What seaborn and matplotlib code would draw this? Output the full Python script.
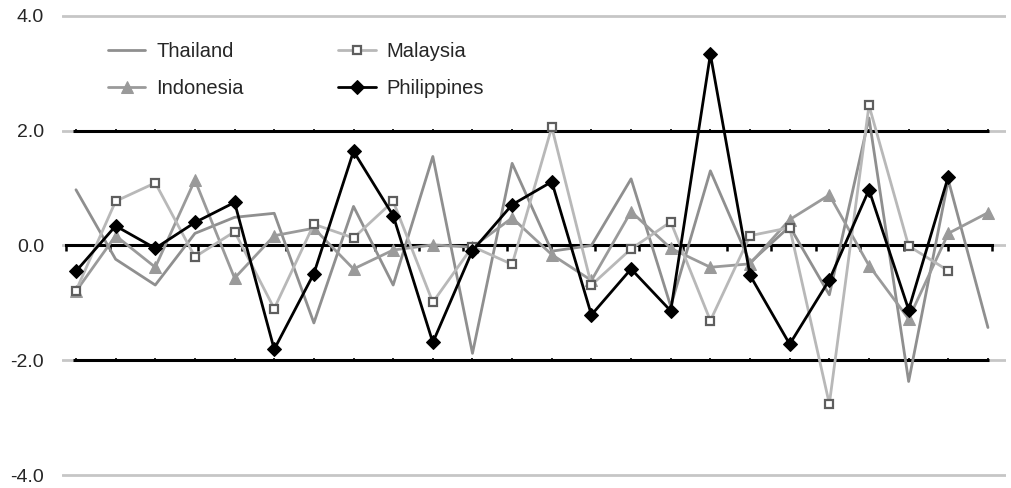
import numpy as np
import pandas as pd
import matplotlib
matplotlib.use("Agg")
import matplotlib.pyplot as plt
import seaborn as sns

# values (24 periods)
periods = list(range(24))
thailand = [0.97, -0.24, -0.69, 0.21, 0.49, 0.56, -1.35, 0.68, -0.69, 1.55, -1.88, 1.43,
            -0.10, 0.00, 1.16, -1.06, 1.30, -0.30, 0.33, -0.86, 2.22, -2.37, 1.14, -1.43]
indonesia = [-0.80, 0.17, -0.38, 1.14, -0.57, 0.17, 0.30, -0.41, -0.08, 0.01, -0.03, 0.48,
             -0.16, -0.61, 0.59, -0.05, -0.38, -0.32, 0.45, 0.88, -0.35, -1.28, 0.21, 0.57]
malaysia = [-0.79, 0.77, 1.09, -0.20, 0.24, -1.10, 0.37, 0.13, 0.77, -0.99, -0.02, -0.33,
            2.06, -0.69, -0.06, 0.41, -1.31, 0.17, 0.31, -2.76, 2.44, -0.01, -0.44]
philippines = [-0.45, 0.34, -0.05, 0.40, 0.75, -1.81, -0.49, 1.64, 0.52, -1.69, -0.09, 0.71,
               1.11, -1.21, -0.41, -1.14, 3.33, -0.52, -1.72, -0.60, 0.97, -1.12, 1.20]
band = 2.0
yticks = [4.0, 2.0, 0.0, -2.0, -4.0]
ytick_labels = ["4.0", "2.0", "0.0", "-2.0", "-4.0"]

sns.set_style("white")
plt.rcParams["font.family"] = ["Liberation Sans", "DejaVu Sans"]

fig = plt.figure(figsize=(10.11, 4.88), dpi=100)
ax = fig.add_axes([0.0613, 0.0148, 0.9337, 0.9645])

# +/-2 reference lines with small period ticks
for level in (band, -band):
    ax.hlines(level, -0.08, 23.03, color="black", lw=2.2, zorder=1.5)
    ax.plot(periods, [level] * len(periods), ls="none", marker="|", ms=3,
            mew=1.2, color="black", zorder=1.6)

sns.lineplot(x=periods, y=thailand, color="#8f8f8f", lw=2, label="Thailand",
             ax=ax, zorder=3)
sns.lineplot(x=periods, y=indonesia, color="#9a9a9a", lw=2, marker="^", ms=8,
             mec="#9a9a9a", mfc="#9a9a9a", label="Indonesia", ax=ax, zorder=3)
sns.lineplot(x=periods[:len(malaysia)], y=malaysia, color="#b8b8b8", lw=2, marker="s",
             ms=5.5, mfc="white", mec="#5e5e5e", mew=1.6, label="Malaysia", ax=ax, zorder=4)
sns.lineplot(x=periods[:len(philippines)], y=philippines, color="black", lw=2,
             marker="D", ms=7.5, mec="black", mfc="black", label="Philippines",
             ax=ax, zorder=5)

ax.set_xlim(-0.353, 23.454)
ax.set_ylim(-4.1, 4.1)

# horizontal grid
ax.set_yticks(yticks)
ax.set_yticklabels(ytick_labels, fontsize=14)
ax.yaxis.grid(True, color="#c6c6c6", lw=2)
ax.xaxis.grid(False)
ax.tick_params(axis="y", length=0, pad=13)

# zero axis with its own ticks
for side in ("left", "right", "top"):
    ax.spines[side].set_visible(False)
ax.spines["bottom"].set_position(("data", 0))
ax.spines["bottom"].set_bounds(-0.25, 23.1)
ax.spines["bottom"].set_linewidth(2.2)
ax.spines["bottom"].set_color("black")
ax.spines["bottom"].set_zorder(2)
ax.set_xticks(np.linspace(-0.25, 23.1, 22))
ax.set_xticklabels([])
ax.tick_params(axis="x", direction="out", length=4, width=1.8, color="black", bottom=True)
ax.set_xlabel("")
ax.set_ylabel("")

h, l = ax.get_legend_handles_labels()
order = [l.index(n) for n in ["Thailand", "Indonesia", "Malaysia", "Philippines"]]
ax.legend([h[i] for i in order], [l[i] for i in order], ncol=2, frameon=False,
          loc="upper left", bbox_to_anchor=(0.0487, 0.9315), borderpad=0,
          borderaxespad=0, fontsize=14.5, handlelength=1.85, handletextpad=0.55,
          columnspacing=4.7, labelspacing=0.9)

fig.savefig("out.png", dpi=100)
